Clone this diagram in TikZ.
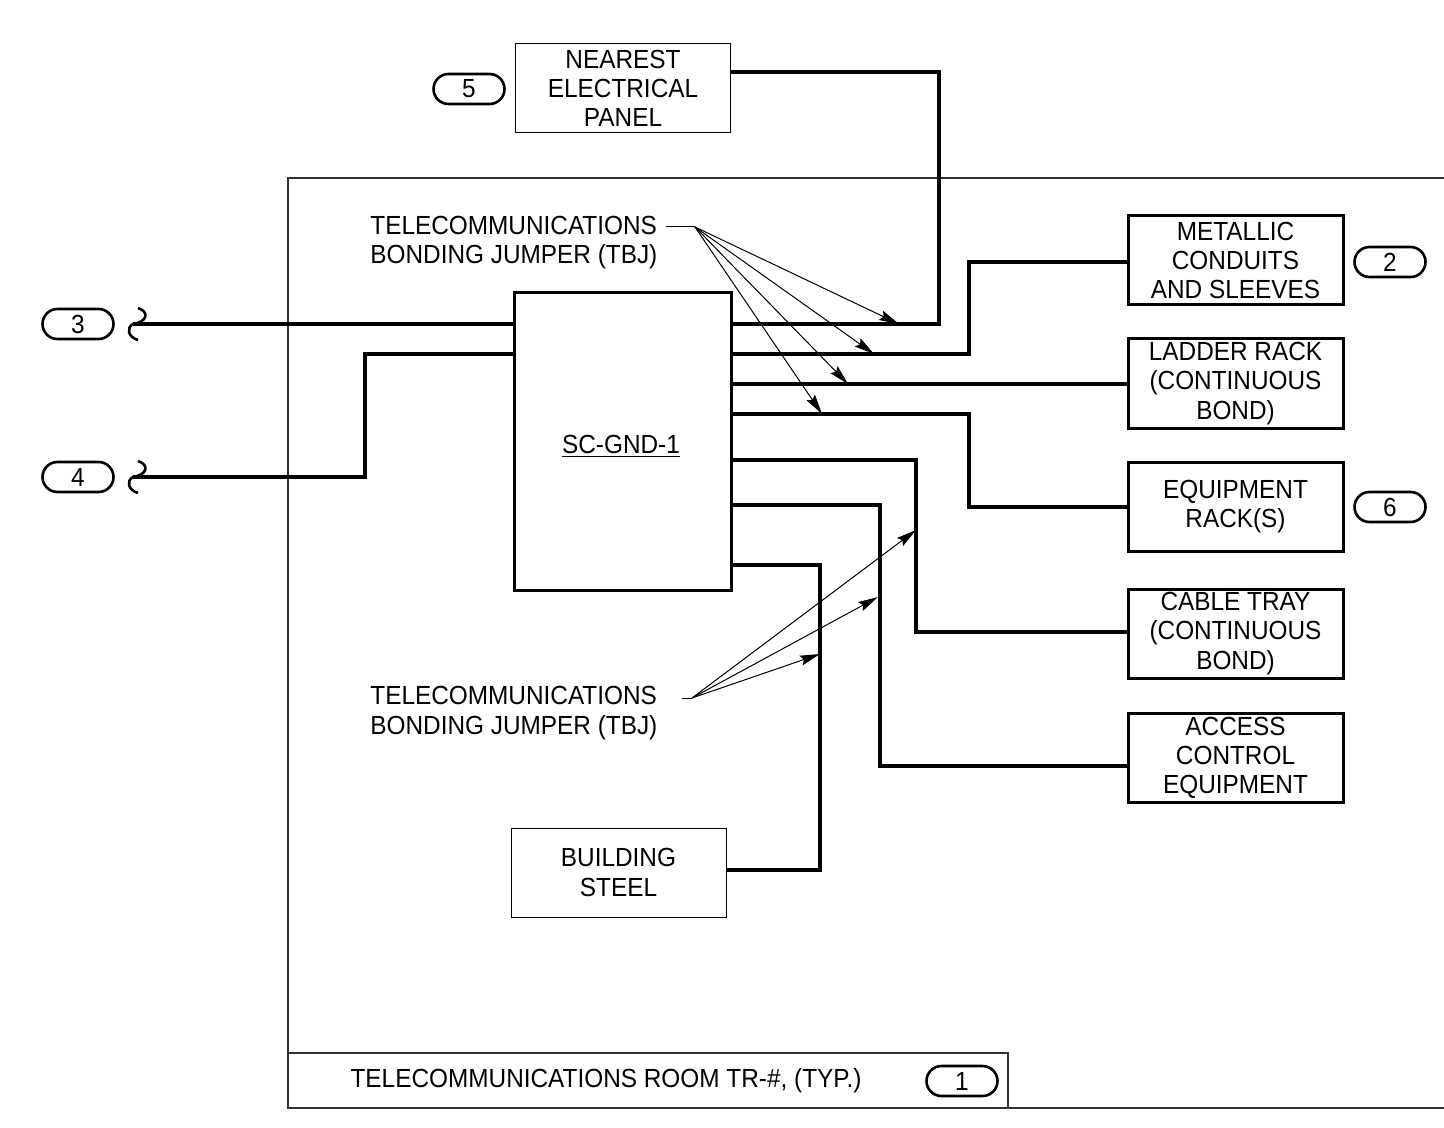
\documentclass[tikz,border=0pt]{standalone}
\usepackage{fontspec}
\setmainfont[FakeStretch=0.93]{Liberation Sans}
\usetikzlibrary{arrows.meta}
\begin{document}
\begin{tikzpicture}[x=0.5pt,y=-0.5pt,
  txt/.style={font=\fontsize{13.1}{14.6}\selectfont, align=center, inner sep=0pt},
  thinbox/.style={txt, draw, line width=0.5pt, minimum width=107.5pt, minimum height=44.5pt, outer sep=0pt},
  thickbox/.style={txt, draw, line width=1.5pt, minimum width=107.5pt, minimum height=44.5pt, outer sep=0pt},
  tag/.style={draw, line width=1.3pt, rounded corners=7.5pt, minimum width=35.5pt, minimum height=15pt, inner sep=0pt, font=\fontsize{13.1}{15}\selectfont},
  wire/.style={line width=2pt},
  room/.style={line width=0.6pt, draw=black!80},
  leader/.style={line width=0.5pt},
  arr/.style={line width=0.5pt, -{Stealth[length=10pt,width=5pt,inset=1.5pt]}},
  squig/.style={line width=1.3pt}
]
\useasboundingbox (0,0) rectangle (1444,1128);

% room outline
\draw[room] (1444,178) -- (288,178) -- (288,1108) -- (1444,1108);
\draw[room] (288,1053) -- (1008,1053) -- (1008,1108);
\node[txt] (roomlbl) at (606,1081) {TELECOMMUNICATIONS ROOM TR-\#, (TYP.)};
\node[tag] (t1) at (962,1081) {1};

% boxes
\node[thinbox] (panel) at (623,88.5) {NEAREST\\ELECTRICAL\\PANEL};
\node[tag] (t5) at (469,89) {5};

\node[thickbox, minimum width=108.5pt, minimum height=148.5pt] (sc) at (622.5,441.5) {};
\node[txt] (sclbl) at (621,446) {\underline{SC-GND-1}};

\node[thickbox] (metal) at (1235.5,260.5) {METALLIC\\CONDUITS\\AND SLEEVES};
\node[tag] (t2) at (1390,262) {2};
\node[thickbox] (ladder) at (1235.5,383.5) {LADDER RACK\\(CONTINUOUS\\BOND)};
\node[thickbox] (equip) at (1235.5,506.5) {EQUIPMENT\\RACK(S)};
\node[tag] (t6) at (1390,507) {6};
\node[thickbox] (cable) at (1235.5,633.5) {CABLE TRAY\\(CONTINUOUS\\BOND)};
\node[thickbox] (access) at (1235.5,758) {ACCESS\\CONTROL\\EQUIPMENT};
\node[thinbox] (steel) at (618.5,872.5) {BUILDING\\STEEL};

\node[tag] (t3) at (78,324) {3};
\node[tag] (t4) at (78,477) {4};

% wires
\draw[wire] (sc.east |- 0,324) -| (939,72) -- (panel.east |- 0,72);
\draw[wire] (sc.east |- 0,354) -| (969,262) -- (metal.west |- 0,262);
\draw[wire] (sc.east |- 0,384) -- (ladder.west |- 0,384);
\draw[wire] (sc.east |- 0,414) -| (969,507) -- (equip.west |- 0,507);
\draw[wire] (sc.east |- 0,460) -| (916,632) -- (cable.west |- 0,632);
\draw[wire] (sc.east |- 0,505) -| (880,766) -- (access.west |- 0,766);
\draw[wire] (sc.east |- 0,565) -| (820,870) -- (steel.east |- 0,870);

\coordinate (e3) at (133,324);
\coordinate (e4) at (133,477);
\draw[wire] (sc.west |- 0,324) -- (e3);
\draw[wire] (sc.west |- 0,354) -| (365,477) -- (e4);

% break symbols
\foreach \e in {e3,e4}{
  \draw[squig] ([shift={(5,-16)}]\e) .. controls ([shift={(17,-12)}]\e) and ([shift={(14,-2)}]\e) .. (\e)
     .. controls ([shift={(-7,4)}]\e) and ([shift={(-5,13)}]\e) .. ([shift={(5,16)}]\e);
}

% TBJ labels and arrows
\node[txt, align=left, anchor=west] (tbj1) at (370,242.5) {TELECOMMUNICATIONS\\BONDING JUMPER (TBJ)};
\coordinate (j1) at (695,227);
\draw[leader] (666,227) -- (j1);
\coordinate (a1) at (899,324);
\coordinate (a2) at (874,354);
\coordinate (a3) at (848,384);
\coordinate (a4) at (822,414);
\foreach \a in {a1,a2,a3,a4} \draw[arr] (j1) -- (\a);

\node[txt, align=left, anchor=west] (tbj2) at (370,713) {TELECOMMUNICATIONS\\BONDING JUMPER (TBJ)};
\coordinate (j2) at (692,698);
\draw[leader] (682,698) -- (j2);
\coordinate (b1) at (916,530);
\coordinate (b2) at (878,597);
\coordinate (b3) at (820,654);
\foreach \b in {b1,b2,b3} \draw[arr] (j2) -- (\b);

\end{tikzpicture}
\end{document}
